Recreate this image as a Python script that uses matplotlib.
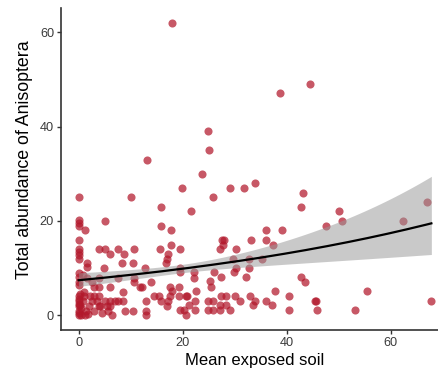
import numpy as np
import matplotlib
matplotlib.use("Agg")
import matplotlib.pyplot as plt

# ---- data ----
soil_high = [18.0, 38.7, 44.4, 24.9, 25.1, 13.1, 23.7, 33.9, 19.8, 29.0, 31.7, 43.1,
             0.0, 10.1, 25.8, 66.9, 15.9, 42.7, 21.6, 50.0, 0.0, 5.0, 50.7, 62.4,
             0.0, 0.0, 15.8, 47.6, 1.2, 0.0, 17.7, 36.1, 39.0,
             17.7, 27.5, 28.0, 27.7, 33.1, 36.1, 37.3]
abund_high = [62, 47, 49, 39, 35, 33, 30, 28, 27, 27, 27, 26,
              25, 25, 25, 24, 23, 23, 22, 22, 20.1, 20, 20, 20,
              19.5, 18.9, 19, 19, 18, 16, 18, 18, 18,
              15, 16, 16, 15, 16, 16, 15]

soil_mid = [0.0, 0.0, 0.0, 0.0, 4.0, 5.0, 6.0, 7.5, 8.7, 10.6, 15.6, 17.2, 16.9, 19.4,
            27.1, 30.3, 1.7, 1.6, 4.9, 8.3, 10.5, 12.8, 16.7, 19.4, 29.6, 32.8, 35.3,
            30.2, 32.7,
            0.0, 0.0, 0.0, 0.0, 0.8, 1.7, 4.0, 4.0, 6.0, 7.5, 10.6, 10.6, 11.7, 12.2,
            14.0, 17.5, 19.3, 19.4, 22.2, 22.1, 26.0, 27.4, 29.9, 32.1, 25.2, 25.5,
            18.0, 22.5, 42.8, 43.5, 37.7, 55.4, 8.6, 2.6, 3.0, 1.0]
abund_mid = [14.1, 13.4, 12.7, 12.0, 14, 14, 13, 14, 13, 14, 14, 13, 12, 14,
             14, 14, 11, 10.3, 10, 11, 11, 10, 11, 10, 12, 12, 12,
             10, 10,
             9, 8.2, 7, 6.5, 8.6, 8, 8, 6, 6, 8, 8, 7, 6, 6,
             7, 6, 6, 9.2, 9.2, 8, 9.2, 8.1, 9.2, 8.1, 7.2, 6.1,
             5.1, 5.1, 8.1, 7.1, 5.1, 5.1, 5, 7, 6, 5]

soil_low = [0.0, 0.0, 0.0, 0.0, 0.0, 0.0, 0.0, 0.0, 0.5, 0.5, 0.8, 1.0, 1.2, 1.5,
            2.0, 2.5, 3.0, 3.0, 3.5, 4.0, 4.2, 4.5, 5.0, 5.5, 5.7, 6.0, 6.4, 6.9,
            7.6, 8.5, 9.0, 10.5, 4.0, 6.0, 0.3, 0.3, 1.8, 2.2,
            13.0, 13.0, 13.0, 15.8, 14.5, 15.4, 17.5, 17.2, 16.9, 19.2, 20.6, 20.8,
            22.4, 24.9, 25.8, 27.3, 28.3, 30.1, 31.0, 33.0, 21.2, 19.4, 20.3, 20.7,
            22.4, 24.9, 25.8, 27.1, 28.3, 27.1, 29.1,
            33.9, 33.6, 36.0, 37.2, 40.4, 40.4, 45.5, 45.7, 45.9, 53.1, 67.8]
abund_low = [4, 3.5, 3, 2.5, 2, 1, 0.5, 0, 0, 1.5, 3, 4, 0, 1,
             2, 3, 4, 1, 3, 4, 2, 0.5, 3, 2, 1, 3, 0, 3,
             3, 3, 1, 1, 2, 2, 4.5, 2.2, 0.3, 4,
             1, 0, 3, 3, 4, 4, 4.1, 3.1, 2, 4.1, 4.1, 4.0,
             3.1, 3.1, 3.1, 4.1, 4.1, 4.1, 3.1, 4.1, 2.1, 1.1, 1.1, 0,
             1.1, 1.1, 1.1, 2.1, 2.1, 1.1, 1.1,
             3.1, 2.1, 3.1, 2.1, 4.1, 1.1, 3.1, 3.0, 1.1, 1.1, 3.1]

soil = np.array(soil_high + soil_mid + soil_low)
abundance = np.array(abund_high + abund_mid + abund_low)

# fitted log-link model
fit_intercept = 2.007
fit_slope = 0.0142
se_min = 0.046
se_slope = 0.0043
se_centre = 20.0

x_ticks = [0, 20, 40, 60]
y_ticks = [0, 20, 40, 60]
x_label = "Mean exposed soil"
y_label = "Total abundance of Anisoptera"

# ---- drawing ----
plt.rcParams['font.family'] = ['Liberation Sans', 'DejaVu Sans']
fig = plt.figure(figsize=(4.38, 3.72), dpi=100)
ax = fig.add_axes([61/438, 42/372, 388/438, 322/372])

ax.scatter(soil, abundance, s=34, color='#B2182B', alpha=0.72, linewidths=0, zorder=2)

xs = np.linspace(soil.min(), soil.max(), 200)
eta = fit_intercept + fit_slope * xs
se = np.sqrt(se_min**2 + (se_slope * (xs - se_centre))**2)
ax.fill_between(xs, np.exp(eta - 1.96 * se), np.exp(eta + 1.96 * se),
                color='#999999', alpha=0.52, linewidth=0, zorder=3)
ax.plot(xs, np.exp(eta), color='black', linewidth=1.6, zorder=4)

rng_x = soil.max() - soil.min()
rng_y = abundance.max() - abundance.min()
ax.set_xlim(soil.min() - 0.05 * rng_x, soil.max() + 0.05 * rng_x)
ax.set_ylim(abundance.min() - 0.05 * rng_y, abundance.max() + 0.05 * rng_y)
ax.set_xticks(x_ticks)
ax.set_yticks(y_ticks)

for s in ['top', 'right']:
    ax.spines[s].set_visible(False)
for s in ['left', 'bottom']:
    ax.spines[s].set_color('#333333')
    ax.spines[s].set_linewidth(1.2)
ax.tick_params(axis='both', colors='#333333', length=3, width=1.0,
               labelsize=9.2, labelcolor='#3A3A3A', pad=2)

ax.set_xlabel(x_label, fontsize=12, color='black', labelpad=3)
ax.set_ylabel(y_label, fontsize=12.8, color='black', labelpad=5, y=0.53,
              horizontalalignment='center')

fig.savefig("out.png", dpi=100)
